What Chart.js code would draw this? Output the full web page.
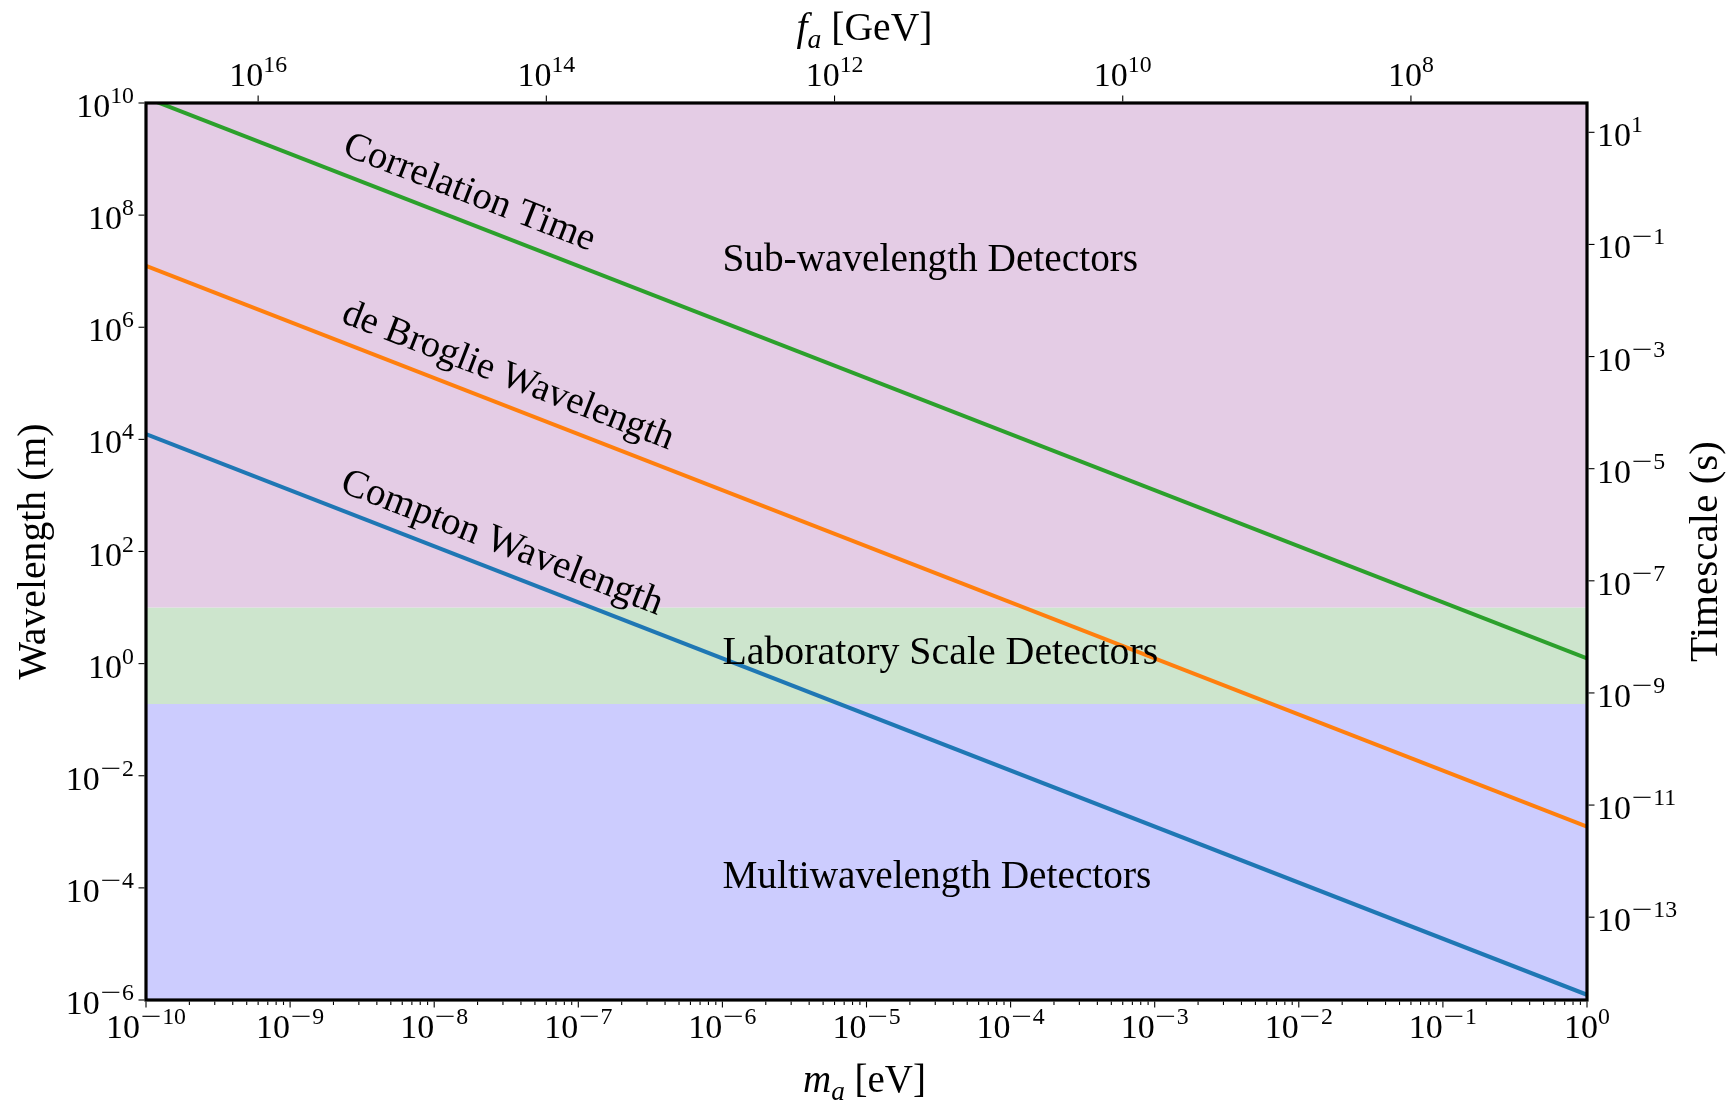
<!DOCTYPE html>
<html><head><meta charset="utf-8">
<script src="https://cdn.jsdelivr.net/npm/chart.js@4.4.0/dist/chart.umd.min.js"></script>
<style>html,body{margin:0;padding:0;background:#fff;}#wrap{width:1731px;height:1101px;}</style>
</head><body><div id="wrap"><canvas id="c" width="1731" height="1101"></canvas></div>
<script>
// ---------- data ----------
const massEndpoints = [1e-10, 1];                 // m_a [eV]
const comptonWavelength = [1.24e4, 1.24e-6];      // m
const deBroglieWavelength = [1.24e7, 1.24e-3];    // m
const correlationLength = [1.24e10, 1.24];        // m
const seriesNames = ['Compton Wavelength', 'de Broglie Wavelength', 'Correlation Time'];
const bandNames = ['Sub-wavelength Detectors', 'Laboratory Scale Detectors', 'Multiwavelength Detectors'];
const bandTop = [1e10, 10, 0.19];
const bandBottom = [10, 0.19, 1e-6];
const massTickExponents = [-10, -9, -8, -7, -6, -5, -4, -3, -2, -1, 0];
const wavelengthTickExponents = [-6, -4, -2, 0, 2, 4, 6, 8, 10];
const decayConstTickExponents = [16, 14, 12, 10, 8];
const timescaleTickExponents = [1, -1, -3, -5, -7, -9, -11, -13];
const FA_TIMES_MA = 6e6;     // f_a [GeV] * m_a [eV]
const SPEED_OF_LIGHT = 3e8;  // m/s

// ---------- styling ----------
const FONT = "'Liberation Serif', 'DejaVu Serif', serif";
const lineColors = ['#1f77b4', '#ff7f0e', '#2ca02c'];
const bandColors = ['rgb(228,204,229)', 'rgb(205,229,205)', 'rgb(204,204,254)'];

const lineSeries = [comptonWavelength, deBroglieWavelength, correlationLength];
const datasets = [];
lineSeries.forEach((vals, i) => {
  datasets.push({
    label: seriesNames[i],
    data: massEndpoints.map((m, j) => ({x: m, y: vals[j]})),
    borderColor: lineColors[i], borderWidth: 4, pointRadius: 0,
    fill: false, tension: 0, order: 1, clip: 0, xAxisID: 'x', yAxisID: 'y'
  });
});
bandNames.forEach((name, i) => {
  datasets.push({
    label: name,
    data: massEndpoints.map(m => ({x: m, y: bandTop[i]})),
    borderWidth: 0, borderColor: 'rgba(0,0,0,0)', backgroundColor: bandColors[i],
    pointRadius: 0, fill: {value: bandBottom[i]}, order: 10, clip: 0,
    xAxisID: 'x', yAxisID: 'y'
  });
});

function setFont(ctx, size, italic) { ctx.font = (italic ? 'italic ' : '') + size + 'px ' + FONT; }
function runW(ctx, r, size) {
  const s = size * (r.scale || 1);
  setFont(ctx, s, r.italic);
  return ctx.measureText(r.text).width * (r.sx || 1) + 2 * (r.pad || 0) * s;
}
function runsWidth(ctx, runs, size) { return runs.reduce((w, r) => w + runW(ctx, r, size), 0); }
function drawRuns(ctx, runs, x, y, size, align) {
  const w = runsWidth(ctx, runs, size);
  let cx = align === 'center' ? x - w / 2 : align === 'right' ? x - w : x;
  ctx.textAlign = 'left';
  for (const r of runs) {
    const rw = runW(ctx, r, size);
    const s = size * (r.scale || 1);
    setFont(ctx, s, r.italic);
    ctx.save();
    ctx.translate(cx + (r.pad || 0) * s, y + (r.dy || 0) * size);
    ctx.scale(r.sx || 1, 1);
    ctx.fillText(r.text, 0, 0);
    ctx.restore();
    cx += rw;
  }
}
function fitSize(ctx, runs, target) { return 100 * target / runsWidth(ctx, runs, 100); }
function powRuns(e) {
  const runs = [{text: '10'}];
  if (e < 0) runs.push({text: '\u2212', scale: 0.7, dy: -0.41, sx: 1.55, pad: 0.03});
  runs.push({text: String(Math.abs(e)), scale: 0.7, dy: -0.41});
  return runs;
}

const TICK_F = 34;
const overlay = {
  id: 'overlay',
  afterDraw(chart) {
    const ctx = chart.ctx, a = chart.chartArea, s = chart.scales;
    ctx.save();
    ctx.fillStyle = '#000'; ctx.strokeStyle = '#000'; ctx.textBaseline = 'alphabetic';

    // annotations along lines
    const ang = Math.atan2(s.y.getPixelForValue(comptonWavelength[1]) - s.y.getPixelForValue(comptonWavelength[0]),
                           s.x.getPixelForValue(massEndpoints[1]) - s.x.getPixelForValue(massEndpoints[0]));
    const lineLabels = [
      {text: seriesNames[2], m: 1.75e-8, l: 2.47e8, w: 267},
      {text: seriesNames[1], m: 3.25e-8, l: 1.33e5, w: 353},
      {text: seriesNames[0], m: 2.95e-8, l: 139, w: 342}
    ];
    lineLabels.forEach(L => {
      const runs = [{text: L.text}];
      const f = fitSize(ctx, runs, L.w);
      ctx.save();
      ctx.translate(s.x.getPixelForValue(L.m), s.y.getPixelForValue(L.l));
      ctx.rotate(ang);
      ctx.textBaseline = 'middle';
      drawRuns(ctx, runs, 0, 0, f, 'center');
      ctx.restore();
    });
    // region labels
    const regionLabels = [
      {text: bandNames[0], l: 1e7, w: 416},
      {text: bandNames[1], l: 1, w: 436},
      {text: bandNames[2], l: 1e-4, w: 429}
    ];
    regionLabels.forEach(R => {
      const runs = [{text: R.text}];
      const f = fitSize(ctx, runs, R.w);
      drawRuns(ctx, runs, s.x.getPixelForValue(1e-6), s.y.getPixelForValue(R.l), f, 'left');
    });

    // frame
    ctx.lineWidth = 3.2;
    ctx.strokeRect(a.left, a.top, a.right - a.left, a.bottom - a.top);

    // ticks
    ctx.lineWidth = 1.1;
    const tick = (x1, y1, x2, y2) => { ctx.beginPath(); ctx.moveTo(x1, y1); ctx.lineTo(x2, y2); ctx.stroke(); };
    massTickExponents.forEach(e => {
      const px = s.x.getPixelForValue(Math.pow(10, e));
      tick(px, a.bottom + 1.5, px, a.bottom + 7.5);
      if (e < 0) for (let k = 2; k <= 9; k++) {
        const mx = s.x.getPixelForValue(k * Math.pow(10, e));
        tick(mx, a.bottom + 1.5, mx, a.bottom + 5);
      }
      drawRuns(ctx, powRuns(e), px, 1038, TICK_F, 'center');
    });
    wavelengthTickExponents.forEach(e => {
      const py = s.y.getPixelForValue(Math.pow(10, e));
      tick(a.left - 1.5, py, a.left - 7.5, py);
      drawRuns(ctx, powRuns(e), 134, py + 14, TICK_F, 'right');
    });
    decayConstTickExponents.forEach(e => {
      const px = s.xTop.getPixelForValue(Math.pow(10, e));
      tick(px, a.top - 1.5, px, a.top - 7.5);
      drawRuns(ctx, powRuns(e), px, 86, TICK_F, 'center');
    });
    timescaleTickExponents.forEach(e => {
      const py = s.yRight.getPixelForValue(Math.pow(10, e));
      tick(a.right + 1.5, py, a.right + 7.5, py);
      drawRuns(ctx, powRuns(e), 1597, py + 14, TICK_F, 'left');
    });

    // axis titles
    const cx = (a.left + a.right) / 2, cy = (a.top + a.bottom) / 2;
    const mRuns = [{text: 'm', italic: true}, {text: 'a', italic: true, scale: 0.7, dy: 0.2}, {text: ' [eV]'}];
    drawRuns(ctx, mRuns, cx - 2, 1092, fitSize(ctx, mRuns, 123), 'center');
    const fRuns = [{text: 'f', italic: true}, {text: 'a', italic: true, scale: 0.7, dy: 0.2}, {text: ' [GeV]'}];
    drawRuns(ctx, fRuns, cx - 2, 40, fitSize(ctx, fRuns, 136), 'center');
    const wRuns = [{text: 'Wavelength (m)'}];
    ctx.save(); ctx.translate(35, cy); ctx.rotate(-Math.PI / 2); ctx.textBaseline = 'middle';
    drawRuns(ctx, wRuns, 0, 0, fitSize(ctx, wRuns, 256), 'center'); ctx.restore();
    const tRuns = [{text: 'Timescale (s)'}];
    ctx.save(); ctx.translate(1706, cy); ctx.rotate(-Math.PI / 2); ctx.textBaseline = 'middle';
    drawRuns(ctx, tRuns, 0, 0, fitSize(ctx, tRuns, 221), 'center'); ctx.restore();

    ctx.restore();
  }
};

const hidden = {grid: {display: false}, border: {display: false}, ticks: {display: false}, title: {display: false}};
new Chart(document.getElementById('c').getContext('2d'), {
  type: 'line',
  data: {datasets},
  options: {
    responsive: false, animation: false, devicePixelRatio: 1, events: [],
    layout: {padding: 0},
    plugins: {legend: {display: false}, tooltip: {enabled: false}, filler: {propagate: false}},
    scales: {
      x: Object.assign({type: 'logarithmic', position: 'bottom', min: massEndpoints[0], max: massEndpoints[1], bounds: 'data',
        afterFit(sc) { sc.height = 101; }}, hidden),
      xTop: Object.assign({type: 'logarithmic', position: 'top', min: FA_TIMES_MA / massEndpoints[1], max: FA_TIMES_MA / massEndpoints[0],
        reverse: true, bounds: 'data', afterFit(sc) { sc.height = 103; }}, hidden),
      y: Object.assign({type: 'logarithmic', position: 'left', min: 1e-6, max: 1e10, bounds: 'data',
        afterFit(sc) { sc.width = 146; }}, hidden),
      yRight: Object.assign({type: 'logarithmic', position: 'right', min: 1e-6 / SPEED_OF_LIGHT, max: 1e10 / SPEED_OF_LIGHT, bounds: 'data',
        afterFit(sc) { sc.width = 144; }}, hidden)
    }
  },
  plugins: [overlay]
});
</script></body></html>
